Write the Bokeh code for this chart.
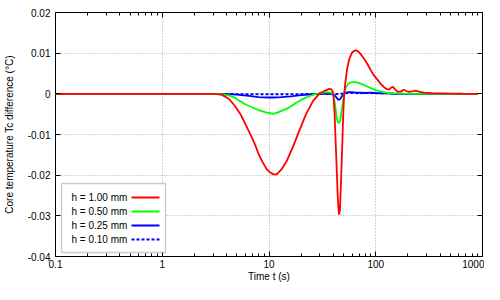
from bokeh.plotting import figure
from bokeh.models import (FixedTicker, CustomJSTickFormatter, LogAxis, LinearAxis,
                          BoxAnnotation, Label, Arrow, Range1d)
from bokeh.embed import file_html
from bokeh.resources import INLINE

# ---------------- data ----------------
t_red = [0.1, 1, 2, 3, 3.6, 4.2, 4.8, 5.4, 5.9, 6.4, 6.9, 7.4, 8.0, 8.7, 9.5, 10.2, 11.0,
         11.8, 13.1, 14.6, 16.8, 19.4, 22.4, 25.8, 29.8, 32.0, 34.4, 36.9, 38.5, 39.5,
         40.3, 41.0, 42, 43, 44, 44.8, 45.4, 46.2, 47.2, 48.5, 49.6, 50.6, 52,
         54, 56.4, 59.6, 62, 65.5, 70, 77.6, 84, 90.3, 97, 105, 112, 119, 126, 133, 139,
         145, 152, 161, 172, 183, 193, 204, 220, 237, 258, 282, 315, 349, 420, 520, 650, 900]
v_red = [0, 0, 0, -0.00002, -0.0002, -0.0012, -0.0030, -0.0050, -0.0070, -0.0089, -0.0107,
         -0.0125, -0.0148, -0.0168, -0.0185, -0.0193, -0.0198, -0.0198, -0.0186, -0.0166,
         -0.0130, -0.0088, -0.0048, -0.0018, 0.0001, 0.0005, 0.0009, 0.0012, 0.0011,
         0.0006, -0.0010, -0.004, -0.011, -0.018, -0.025, -0.0285,
         -0.0297, -0.0285, -0.022, -0.013, -0.005, 0.0000, 0.0030, 0.0062, 0.0085, 0.0100,
         0.0105, 0.0107, 0.0102, 0.0087, 0.0072, 0.0057, 0.0044, 0.0033, 0.0024, 0.0017,
         0.0012, 0.0010, 0.0015, 0.0017, 0.0011, 0.0005, 0.0006, 0.0010, 0.0007, 0.0005,
         0.0006, 0.0008, 0.0005, 0.0003, 0.0002, 0.0001, 0.0001, 0.00005, 0.00002, 0]

t_green = [0.1, 1, 2, 3, 3.6, 4.2, 4.8, 5.4, 5.9, 6.9, 8.0, 9.5, 11.0, 11.75, 13.1, 14.6,
           16.2, 18.0, 20, 22.4, 24.9, 27.4, 30.6, 34.4, 38.2, 40.3, 41.5, 42.8, 44,
           45.2, 46.5, 48, 49.6, 51, 53, 56, 60, 65.5, 72, 80, 90, 100, 115, 130, 150,
           180, 250, 400, 900]
v_green = [0, 0, 0, 0, -0.0001, -0.0004, -0.0010, -0.0018, -0.0025, -0.0033, -0.0040,
           -0.0046, -0.0049, -0.0047, -0.0042, -0.0037, -0.0030, -0.0022, -0.0015, -0.0009,
           -0.0004, 0.0000, 0.0002, 0.0004, 0.0003, -0.0005, -0.0025, -0.0055, -0.0069,
           -0.0072, -0.0065, -0.0040, -0.0015, 0.0005, 0.0018, 0.0026, 0.0029, 0.0029,
           0.0025, 0.0020, 0.0014, 0.0009, 0.0005, 0.0002, 0.0001, 0.00005, 0, 0, 0]

t_blue = [0.1, 1, 2, 3, 4, 5, 6.5, 8, 10, 11, 13, 16, 20, 25, 30, 35, 40, 42, 44, 45.4, 47,
          49, 52, 56, 60, 65, 72, 80, 90, 100, 115, 130, 150, 200, 300, 500, 900]
v_blue = [0, 0, 0, 0, -0.00005, -0.0002, -0.0005, -0.0008, -0.0009, -0.0009, -0.0008,
          -0.0006, -0.0003, -0.0001, 0.0000, 0.0000, -0.0001, -0.0006, -0.0013, -0.0015,
          -0.0011, -0.0003, 0.0003, 0.0004, 0.0004, 0.0003, 0.0003, 0.0002, 0.0003, 0.0002,
          0.0001, 0.0001, 0.0000, 0, 0, 0, 0]

t_dash = [0.1, 1, 3, 5, 8, 11, 15, 20, 30, 40, 45, 50, 60, 70, 80, 100, 130, 160, 200, 300, 900]
v_dash = [0, 0, 0, -0.00005, -0.0001, -0.0001, -0.0001, -0.00005, 0, 0, -0.0001, 0.0001,
          0.0002, 0.0001, 0.0002, 0.0001, 0.0001, 0.00005, 0, 0, 0]

series_labels = ["h = 1.00 mm", "h = 0.50 mm", "h = 0.25 mm", "h = 0.10 mm"]
x_ticks = [0.1, 1, 10, 100, 1000]
x_minor = [m * d for d in [0.1, 1, 10, 100] for m in range(2, 10)]
y_ticks = [-0.04, -0.03, -0.02, -0.01, 0, 0.01, 0.02]
x_title = "Time t (s)"
y_title = "Core temperature Tc difference (°C)"

# ---------------- figure ----------------
FONT = "Liberation Sans"
FS = "10px"

p = figure(width=484, height=284, x_axis_type="log", output_backend="svg",
           toolbar_location=None, x_range=Range1d(0.1, 1000), y_range=Range1d(-0.04, 0.02),
           min_border_left=53, min_border_right=2, min_border_top=12, min_border_bottom=0,
           background_fill_color="white", border_fill_color="white")
p.outline_line_color = "black"
p.outline_line_width = 1

xt = FixedTicker(ticks=x_ticks, minor_ticks=x_minor)
yt = FixedTicker(ticks=y_ticks)
xfmt = CustomJSTickFormatter(code="return tick.toString();")
yfmt = CustomJSTickFormatter(code="return Number(tick.toFixed(2)).toString();")
blank = CustomJSTickFormatter(code="return '';")

def style_axis(ax):
    ax.axis_line_color = None
    ax.major_tick_in = 5
    ax.major_tick_out = 0
    ax.minor_tick_in = 3
    ax.minor_tick_out = 0
    ax.major_tick_line_color = "black"
    ax.minor_tick_line_color = "black"
    ax.major_label_text_font = FONT
    ax.major_label_text_font_size = FS
    ax.major_label_text_color = "black"
    ax.axis_label_text_font = FONT
    ax.axis_label_text_font_size = FS
    ax.axis_label_text_font_style = "normal"
    ax.axis_label_text_color = "black"

xa = p.xaxis[0]
xa.ticker = xt
xa.formatter = xfmt
xa.axis_label = x_title
style_axis(xa)
xa.major_label_standoff = 3
xa.axis_label_standoff = 0

ya = p.yaxis[0]
ya.ticker = yt
ya.formatter = yfmt
ya.axis_label = y_title
style_axis(ya)
ya.minor_tick_line_color = None
ya.major_label_standoff = 5
ya.axis_label_standoff = 10

top = LogAxis(ticker=xt, formatter=blank)
style_axis(top)
top.major_label_standoff = 0
p.add_layout(top, "above")

right = LinearAxis(ticker=yt, formatter=blank)
style_axis(right)
right.minor_tick_line_color = None
right.major_label_standoff = 0
p.add_layout(right, "right")

p.xgrid.ticker = xt
p.ygrid.ticker = yt
for g in (p.xgrid[0], p.ygrid[0]):
    g.grid_line_color = "#a8a8a8"
    g.grid_line_dash = "1 2"
    g.grid_line_width = 1

colors = ["#ff0000", "#00ff00", "#0000ff", "#0000ff"]
dashes = ["solid", "solid", "solid", "3 2"]
LW = 1.8
p.line(t_dash, v_dash, line_color=colors[3], line_width=LW, line_dash=dashes[3])
p.line(t_blue, v_blue, line_color=colors[2], line_width=LW)
p.line(t_green, v_green, line_color=colors[1], line_width=LW)
p.line(t_red, v_red, line_color=colors[0], line_width=LW)

# ---------------- gnuplot-style key (text left, sample right) ----------------
p.add_layout(BoxAnnotation(left=6, right=110, bottom=4, top=73,
                           left_units="screen", right_units="screen",
                           bottom_units="screen", top_units="screen",
                           fill_color="white", fill_alpha=1.0,
                           line_color="#555555", line_width=1.3))
row_y = [59, 45, 31, 17]
for lab, c, d, yy in zip(series_labels, colors, dashes, row_y):
    p.add_layout(Label(x=16, y=yy, x_units="screen", y_units="screen", text=lab,
                       text_font=FONT, text_font_size=FS, text_baseline="middle",
                       text_align="left", text_color="black"))
    p.add_layout(Arrow(x_start=76, y_start=yy, x_end=104, y_end=yy,
                       start_units="screen", end_units="screen", end=None,
                       line_color=c, line_width=LW, line_dash=d))

open("out.html", "w").write(file_html(p, INLINE))
